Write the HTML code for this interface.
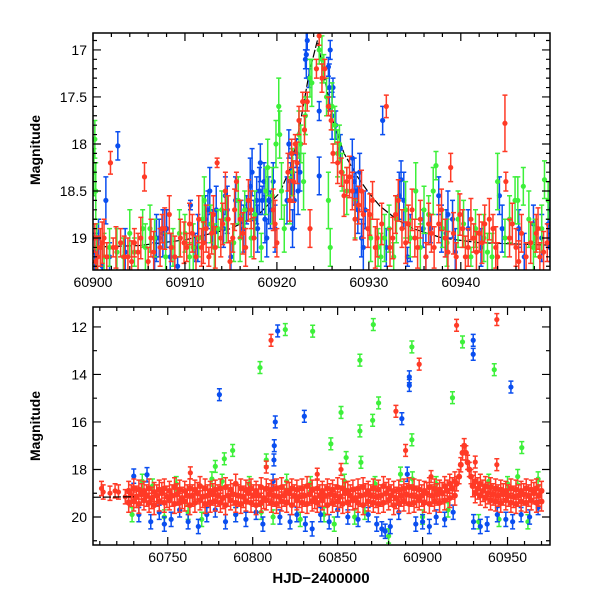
<!DOCTYPE html>
<html><head><meta charset="utf-8"><style>
html,body{margin:0;padding:0;background:#fff;}
svg{display:block;font-family:"Liberation Sans",sans-serif;}
</style></head><body>
<svg id="chart" width="600" height="600" xmlns="http://www.w3.org/2000/svg">
<defs>
<clipPath id="c1"><rect x="93" y="33" width="457" height="237"/></clipPath>
<clipPath id="c2"><rect x="93" y="307" width="457" height="238"/></clipPath>
</defs>
<g id="top"></g>
<g id="bot"></g>
<text x="40" y="150" transform="rotate(-90 40 150)" text-anchor="middle" font-size="14" font-weight="bold">Magnitude</text>
<text x="40" y="426" transform="rotate(-90 40 426)" text-anchor="middle" font-size="14" font-weight="bold">Magnitude</text>
<text x="321" y="583" text-anchor="middle" font-size="15" font-weight="bold">HJD−2400000</text>
</svg>
<script>
// ---- top panel data ----
const topRedT=[60900.2,60900.3,60900.8,60901.2,60901.5,60901.9,60902.2,60903.0,60903.8,60904.5,60904.9,60905.6,60906.0,60906.3,60907.3,60907.5,60908.3,60908.5,60909.5,60910.2,60910.8,60911.5,60911.8,60912.3,60912.6,60913.1,60913.5,60913.9,60914.4,60914.7,60915.2,60915.6,60916.0,60916.6,60917.2,60919.8,60920.0,60921.2,60921.6,60922.0,60922.4,60922.8,60923.0,60923.3,60923.6,60924.3,60924.6,60924.9,60925.2,60925.6,60925.9,60926.1,60927.0,60927.6,60928.2,60928.9,60929.4,60929.9,60930.4,60930.9,60931.9,60932.3,60932.9,60933.6,60934.3,60935.0,60935.6,60936.2,60936.8,60937.6,60938.3,60938.9,60939.5,60940.2,60940.8,60941.4,60942.0,60942.6,60943.5,60944.0,60944.8,60944.9,60945.3,60946.0,60946.6,60947.1,60948.2,60948.6,60949.4];
const topRedM=[19.0,19.25,19.1,19.0,19.2,18.2,19.1,19.05,19.2,19.05,19.15,18.35,19.25,19.0,19.1,18.9,18.75,19.1,19.0,19.1,18.95,18.8,19.1,18.9,19.2,18.75,18.2,19.0,18.5,18.8,19.0,18.4,18.8,19.1,18.7,18.85,19.05,18.3,18.1,18.0,17.75,17.55,17.85,17.55,18.9,17.2,16.85,17.3,17.2,17.6,17.75,18.1,18.3,18.4,18.5,18.65,18.75,18.9,18.6,19.0,17.6,19.1,18.75,18.9,18.85,19.0,18.8,19.2,18.95,18.85,19.0,18.25,19.2,18.9,19.1,19.0,18.95,18.85,18.9,19.2,17.78,18.4,19.0,19.1,18.95,19.2,18.95,19.2,19.05];
const topRedE=[.15,.1,.2,.2,.15,.12,.1,.15,.2,.15,.2,.15,.15,.2,.2,.15,.2,.15,.2,.15,.2,.25,.2,.25,.1,.2,.05,.2,.2,.25,.15,.1,.2,.2,.2,.25,.15,.2,.15,.1,.15,.1,.15,.1,.2,.1,.1,.15,.1,.1,.1,.1,.15,.15,.2,.2,.25,.2,.2,.2,.12,.2,.2,.2,.2,.2,.2,.15,.2,.2,.2,.15,.15,.2,.2,.15,.2,.2,.15,.15,.3,.1,.2,.2,.2,.15,.2,.15,.2];
const topRed2T=[60900.5,60901.0,60902.5,60903.4,60904.2,60905.2,60906.6,60907.8,60908.9,60909.9,60910.5,60911.2,60912.0,60912.9,60913.3,60914.1,60914.9,60915.4,60916.3,60916.9,60917.5,60919.6,60921.4,60921.8,60922.2,60926.6,60927.3,60927.9,60928.5,60929.2,60930.1,60930.7,60931.4,60932.6,60933.2,60934.0,60934.7,60935.3,60936.5,60937.1,60937.9,60938.6,60939.2,60939.9,60940.5,60941.1,60941.7,60942.3,60943.1,60943.8,60945.6,60946.3,60947.6,60948.4,60949.0];
const topRed2M=[19.2,19.05,19.1,19.2,19.25,19.0,19.15,18.9,19.2,19.05,18.85,19.2,19.05,18.95,19.1,18.85,19.25,18.7,18.95,18.6,19.0,18.7,18.6,18.4,18.2,18.2,18.55,18.35,18.8,18.5,18.75,19.1,18.85,19.0,18.6,19.05,18.7,19.1,18.85,19.1,18.7,19.15,18.95,18.75,19.2,18.8,19.15,19.05,18.8,19.1,18.85,19.25,19.05,18.9,19.15];
const topBlueT=[60900.2,60900.6,60901.4,60901.8,60902.7,60906.7,60907.2,60908.0,60909.2,60910.6,60911.1,60912.5,60912.7,60913.0,60914.2,60914.4,60915.0,60916.1,60916.7,60917.1,60917.5,60917.8,60918.2,60918.4,60918.6,60918.9,60919.3,60919.6,60921.3,60921.5,60921.7,60921.9,60922.1,60922.5,60923.1,60923.3,60923.5,60924.6,60924.6,60925.6,60925.8,60926.1,60926.4,60926.9,60928.2,60928.6,60929.0,60929.2,60929.6,60931.5,60931.9,60933.5,60933.8,60934.2,60935.9,60936.7,60937.6,60938.6,60939.1,60940.8,60942.2,60944.2,60946.3,60947.9,60949.7,60949.7];
const topBlueM=[19.15,19.0,18.6,19.2,18.02,19.2,19.0,18.9,19.3,18.65,19.1,18.7,18.5,18.9,18.9,18.55,19.2,18.8,18.7,18.45,18.8,18.6,18.2,18.6,18.4,19.0,18.7,18.4,18.0,18.4,18.9,18.6,18.1,18.3,17.1,16.9,17.3,17.65,18.34,17.18,17.0,17.4,17.8,18.05,18.15,18.5,18.3,19.0,18.7,17.75,19.1,18.38,18.6,19.2,18.9,18.9,18.55,18.75,18.8,18.9,19.1,18.55,18.9,18.85,18.7,19.1];
const topBlueE=[.2,.2,.25,.15,.15,.15,.2,.2,.1,.05,.15,.2,.25,.2,.2,.2,.15,.2,.15,.3,.2,.25,.2,.15,.2,.2,.2,.2,.15,.2,.2,.3,.15,.2,.1,.1,.1,.1,.2,.1,.1,.1,.15,.15,.2,.2,.2,.2,.2,.15,.2,.2,.3,.1,.2,.15,.2,.25,.2,.2,.2,.2,.2,.2,.2,.15];
const topBlue2T=[60900.4,60901.0,60903.5,60906.9,60907.6,60908.4,60911.4,60912.2,60913.4,60914.6,60915.5,60916.4,60917.3,60917.9,60918.1,60918.7,60919.1,60919.8,60921.1,60921.6,60922.3,60923.2,60925.7,60926.0,60928.4,60928.8,60929.4,60933.3,60934.5,60936.2,60937.9,60938.4,60939.4,60944.5,60946.9,60948.8,60949.5];
const topBlue2M=[19.2,19.3,19.15,19.0,18.95,19.2,19.0,18.8,18.7,18.7,18.6,18.9,18.3,18.9,18.5,18.8,18.6,18.9,18.6,18.3,18.5,17.05,17.4,17.7,18.4,18.7,19.1,18.55,19.0,19.2,18.9,18.95,19.15,18.9,19.2,19.0,18.85];
const topGreenT=[60900.2,60900.3,60900.5,60901.8,60903.3,60904.5,60905.4,60906.7,60908.7,60910.0,60910.5,60911.5,60912.1,60912.8,60913.6,60914.0,60915.3,60916.5,60917.2,60918.3,60919.0,60919.5,60920.2,60920.3,60920.5,60921.4,60922.6,60922.9,60923.1,60923.6,60924.6,60925.1,60925.4,60925.6,60925.8,60926.3,60926.8,60927.1,60928.5,60931.0,60931.7,60932.7,60934.0,60934.5,60935.1,60936.5,60937.3,60938.0,60939.7,60941.1,60941.6,60942.9,60944.0,60944.8,60945.9,60946.8,60947.4,60948.1,60949.1,60949.5];
const topGreenM=[17.95,18.5,19.2,19.1,19.2,19.15,18.9,19.0,19.1,18.95,19.2,19.0,18.6,18.85,18.9,18.7,19.05,18.7,19.0,19.1,18.25,18.55,17.6,17.9,18.5,18.6,18.0,18.4,17.7,17.3,17.0,17.2,17.5,18.6,19.1,17.8,18.0,18.3,18.8,19.1,19.0,19.2,18.7,19.0,18.5,18.75,18.23,18.9,18.8,19.2,18.9,19.15,18.4,19.0,18.6,18.45,18.8,19.0,18.38,18.6];
const topGreenE=[.2,.3,.2,.2,.2,.15,.2,.2,.2,.2,.15,.2,.25,.2,.2,.2,.2,.2,.2,.15,.3,.3,.3,.25,.3,.25,.2,.3,.2,.2,.15,.15,.2,.3,.2,.2,.2,.2,.2,.2,.25,.15,.3,.2,.3,.2,.15,.2,.3,.1,.2,.2,.3,.2,.25,.2,.3,.2,.2,.2];
const topGreen2T=[60900.1,60900.4,60901.2,60902.6,60904.0,60905.7,60906.2,60907.9,60909.4,60910.9,60911.9,60913.2,60914.5,60915.8,60916.0,60917.6,60918.8,60919.9,60920.8,60921.7,60922.4,60923.8,60924.9,60926.0,60926.6,60927.6,60930.2,60931.3,60932.2,60933.0,60935.6,60936.0,60937.0,60938.5,60940.3,60942.5,60943.4,60945.3,60946.2,60947.9,60948.8];
const topGreen2M=[18.3,19.1,19.2,19.15,18.95,19.1,18.9,19.2,18.95,19.1,18.8,19.1,18.8,18.6,19.0,18.75,18.5,18.0,18.9,18.3,17.9,17.35,17.1,17.6,18.1,18.5,19.0,19.2,18.9,18.8,19.1,18.7,18.5,19.05,18.85,19.0,19.2,18.8,18.6,19.1,18.9];
const topModelT=[60899,60905,60910,60915,60918,60920.3,60921.5,60922.5,60923.5,60924.4,60925.2,60926.1,60927.3,60928.7,60930,60931.2,60933,60934.8,60938,60942,60951];
const topModelM=[19.1,19.08,19.02,18.9,18.75,18.52,18.25,17.8,17.25,16.9,17.3,17.75,18.1,18.34,18.52,18.66,18.8,18.9,19.0,19.05,19.08];
// ---- bottom panel data ----
const botBandT=[60727,60730,60733,60736,60739,60742,60745,60748,60751,60754,60757,60760,60763,60766,60769,60772,60775,60778,60781,60784,60787,60790,60793,60796,60799,60802,60805,60808,60811,60814,60817,60820,60823,60826,60829,60832,60835,60838,60841,60844,60847,60850,60853,60856,60859,60862,60865,60868,60871,60874,60877,60880,60883,60886,60889,60892,60895,60898,60901,60904,60907,60910,60913,60916,60919,60931,60934,60937,60940,60943,60946,60949,60952,60955,60958,60961,60964,60967,60970];
const botRedHi=[18.9,18.8,18.85,18.9,18.8,18.95,18.85,18.8,18.9,18.75,18.85,18.9,18.8,18.85,18.7,18.8,18.9,18.85,18.8,18.75,18.85,18.6,18.8,18.85,18.8,18.9,18.75,18.8,18.85,18.8,18.75,18.9,18.8,18.85,18.8,18.7,18.85,18.8,18.9,18.8,18.85,18.75,18.8,18.9,18.85,18.8,18.75,18.9,18.8,18.85,18.7,18.8,18.9,18.85,18.8,18.75,18.8,18.85,18.9,18.75,18.8,18.85,18.7,18.6,18.5,18.5,18.6,18.7,18.75,18.8,18.85,18.9,18.8,18.85,18.9,18.8,18.85,18.8,18.9];
const botRedLo=[19.4,19.35,19.45,19.3,19.4,19.5,19.35,19.4,19.3,19.45,19.4,19.35,19.5,19.4,19.3,19.45,19.4,19.35,19.4,19.5,19.3,19.4,19.45,19.35,19.4,19.5,19.4,19.3,19.4,19.45,19.35,19.4,19.5,19.3,19.4,19.45,19.35,19.4,19.3,19.5,19.4,19.35,19.45,19.4,19.3,19.4,19.5,19.35,19.4,19.45,19.4,19.3,19.5,19.4,19.35,19.45,19.4,19.3,19.4,19.45,19.35,19.4,19.3,19.2,19.1,19.0,19.1,19.2,19.3,19.35,19.4,19.3,19.4,19.45,19.35,19.4,19.3,19.4,19.35];
const botBandT2=[60728.5,60731.5,60734.5,60737.5,60740.5,60743.5,60746.5,60749.5,60752.5,60755.5,60758.5,60761.5,60764.5,60767.5,60770.5,60773.5,60776.5,60779.5,60782.5,60785.5,60788.5,60791.5,60794.5,60797.5,60800.5,60803.5,60806.5,60809.5,60812.5,60815.5,60818.5,60821.5,60824.5,60827.5,60830.5,60833.5,60836.5,60839.5,60842.5,60845.5,60848.5,60851.5,60854.5,60857.5,60860.5,60863.5,60866.5,60869.5,60872.5,60875.5,60878.5,60881.5,60884.5,60887.5,60890.5,60893.5,60896.5,60899.5,60902.5,60905.5,60908.5,60911.5,60914.5,60917.5,60929.5,60932.5,60935.5,60938.5,60941.5,60944.5,60947.5,60950.5,60953.5,60956.5,60959.5,60962.5,60965.5,60968.5];
const botRedMid=[19.1,19.15,19.05,19.1,19.2,19.1,19.0,19.15,19.1,19.05,19.2,19.1,19.1,19.0,19.15,19.1,19.05,19.1,19.2,19.1,19.05,19.1,19.15,19.0,19.1,19.1,19.2,19.05,19.1,19.15,19.1,19.0,19.1,19.15,19.1,19.05,19.2,19.1,19.1,19.05,19.1,19.15,19.0,19.1,19.2,19.1,19.05,19.1,19.15,19.1,19.0,19.1,19.2,19.1,19.05,19.1,19.15,19.1,19.0,19.1,19.05,19.0,18.9,18.8,18.7,18.8,18.9,19.0,19.05,19.1,19.05,19.1,19.15,19.1,19.05,19.1,19.0,19.1];
const botRedPeakT=[60920,60921.5,60922.5,60923.5,60924.5,60925.5,60926.5,60927.5,60928.5];
const botRedPeakM=[18.6,18.3,17.8,17.3,17.0,17.3,17.7,18.0,18.3];
const botRedEarlyT=[60711,60712,60716,60719,60721,60725];
const botRedEarlyM=[18.8,18.95,19.0,18.9,18.95,19.15];
const botRedOutT=[60810.8,60920,60943.7,60898,60884.3,60763.3,60943.7,60931,60808,60852,60890,60838,60905];
const botRedOutM=[12.56,11.93,11.69,13.57,15.55,18.14,17.8,17.69,17.9,18.0,17.2,18.2,18.3];
const botBlueT=[60730,60737.8,60733,60740,60745,60748,60752,60757,60762,60768,60773,60778,60784,60790,60796,60802,60806,60812,60816,60822,60826,60831,60835,60840,60845,60850,60856,60862,60868,60873,60876,60878,60881,60886,60891,60896,60900,60904,60908,60913,60918,60930,60934,60938,60944,60949,60953,60958,60963,60968];
const botBlueM=[18.28,18.22,19.9,20.2,19.8,20.3,20.1,19.7,20.2,20.4,19.9,19.7,20.2,19.9,20.1,19.8,20.3,18.5,20.0,20.2,19.9,20.3,20.5,19.9,20.2,19.7,20.0,20.1,19.9,20.3,20.5,20.6,20.4,19.8,18.2,20.3,20.2,20.4,20.0,20.1,19.8,20.2,20.4,20.3,19.9,20.1,20.2,19.9,20.0,19.6];
const botBlueOutT=[60814.7,60780.4,60813.3,60830.4,60892.2,60892.2,60887.8,60929.8,60929.8,60952,60812.7,60812.5];
const botBlueOutM=[12.17,14.85,16.0,15.76,14.1,14.46,15.86,12.56,13.15,14.53,17.0,17.6];
const botGreenT=[60729,60735,60741,60748,60755,60762,60770,60776,60782,60790,60798,60805,60812,60820,60828,60834,60842,60848,60854,60860,60866,60872,60880,60887,60894,60900,60908,60915,60933,60939,60945,60950,60956,60962,60968];
const botGreenM=[19.9,18.5,18.7,20.0,18.6,19.8,20.1,18.4,18.5,19.9,18.6,19.8,20.0,18.5,20.1,18.6,19.9,20.3,18.5,20.0,19.8,18.6,20.8,18.2,18.4,20.0,18.6,19.7,20.2,18.5,20.1,18.6,18.3,20.2,18.4];
const botGreenOutT=[60819.2,60835.3,60871,60893.7,60923.5,60804.3,60863.1,60942.2,60917.6,60852,60874.1,60870.6,60863.1,60846,60893.7,60958.4,60788.2,60783.3,60855,60863.7,60778,60808];
const botGreenOutM=[12.11,12.18,11.9,12.84,12.63,13.71,13.4,13.8,14.98,15.6,15.2,15.93,16.38,16.92,16.75,17.08,17.2,17.55,17.5,17.7,17.87,17.6];
const botModelT=[60706,60730,60800,60900,60915,60919,60922,60924.5,60927,60930,60935,60945,60975];
const botModelM=[19.17,19.15,19.12,19.1,19.0,18.6,17.8,17.0,17.8,18.4,18.8,19.0,19.1];

const NS='http://www.w3.org/2000/svg';
const COL={red:'#ff3a26',blue:'#0a4ef0',green:'#3df03a'};
function mk(tag,attrs,parent){const e=document.createElementNS(NS,tag);for(const k in attrs)e.setAttribute(k,attrs[k]);parent.appendChild(e);return e;}

function panel(g,clip,x0,x1,y0,y1,tmin,tmax,mmin,mmax){
  const sx=t=>x0+(t-tmin)/(tmax-tmin)*(x1-x0);
  const sy=m=>y0+(m-mmin)/(mmax-mmin)*(y1-y0);
  const pg=mk('g',{'clip-path':'url(#'+clip+')'},g);
  
  
  return {sx,sy,pg};
}
function series(p,T,M,E,col,name,de,r){
  const g=mk('g',{},p.pg);
  
  
  const n=Math.min(T.length,M.length);
  for(let i=0;i<n;i++){
    const e=E?E[i]:(de||0.3);
    const x=p.sx(T[i]),yt=p.sy(M[i]-e),yb=p.sy(M[i]+e),y=p.sy(M[i]);
    const pt=mk('g',{},g);
    
    
    mk('path',{d:`M${x},${yt}V${yb}M${x-2.5},${yt}h5M${x-2.5},${yb}h5`,stroke:col,'stroke-width':1.5,fill:'none'},pt);
    mk('circle',{cx:x,cy:y,r:r||2.6,fill:col},pt);
  }
}
function model(p,T,M,name){
  let d='';for(let i=0;i<T.length;i++)d+=(i?'L':'M')+p.sx(T[i])+','+p.sy(M[i]);
  const l=mk('path',{d:d,stroke:'#000','stroke-width':1.2,fill:'none','stroke-dasharray':'8 2'},p.pg);
  
  
}
function axes(g,x0,x1,y0,y1,sx,sy,xMaj,xMin,yMaj,yMin,tmin,tmax,mmin,mmax,xl,yl){
  const f=mk('rect',{x:x0,y:y0,width:x1-x0,height:y1-y0,fill:'none',stroke:'#000','stroke-width':1.5},g);
  
  
  let d='';
  for(let t=Math.ceil(tmin/xMin)*xMin;t<=tmax;t+=xMin){const x=sx(t);const L=(Math.abs(t/xMaj-Math.round(t/xMaj))<1e-6)?8:4;d+=`M${x},${y1}v${-L}M${x},${y0}v${L}`;}
  for(let m=Math.ceil(mmin/yMin-1e-6)*yMin;m<=mmax+1e-9;m+=yMin){const y=sy(m);const L=(Math.abs(m/yMaj-Math.round(m/yMaj))<1e-6)?8:4;d+=`M${x0},${y}h${L}M${x1},${y}h${-L}`;}
  mk('path',{d:d,stroke:'#000','stroke-width':1.2,fill:'none'},g);
  for(const t of xl){const tx=mk('text',{x:sx(t),y:y1+17,'text-anchor':'middle','font-size':14},g);tx.textContent=t;
    
    }
  for(const m of yl){const tx=mk('text',{x:x0-6,y:sy(m)+5,'text-anchor':'end','font-size':14},g);tx.textContent=m;
    
    }
}
const topTicksX=[60900,60910,60920,60930,60940];
const topTicksY=[17,17.5,18,18.5,19];
const botTicksX=[60750,60800,60850,60900,60950];
const botTicksY=[12,14,16,18,20];

const gt=document.getElementById('top');
const P1=panel(gt,'c1',93,550,33,270,60900,60949.7,16.82,19.34);
model(P1,topModelT,topModelM,'model-curve');
series(P1,topBlueT,topBlueM,topBlueE,COL.blue,'series-blue');
series(P1,topBlue2T,topBlue2M,null,COL.blue,'series-blue-extra',0.25);
series(P1,topGreenT,topGreenM,topGreenE,COL.green,'series-green');
series(P1,topGreen2T,topGreen2M,null,COL.green,'series-green-extra',0.25);
series(P1,topRedT,topRedM,topRedE,COL.red,'series-red');
series(P1,topRed2T,topRed2M,null,COL.red,'series-red-extra',0.22);
axes(gt,93,550,33,270,P1.sx,P1.sy,10,2,0.5,0.1,60900,60949.7,16.82,19.34,topTicksX,topTicksY);

const gb=document.getElementById('bot');
const P2=panel(gb,'c2',93,550,307,545,60706,60975,11.16,21.18);
series(P2,botGreenT,botGreenM,null,COL.green,'series-green-band');
series(P2,botBlueT,botBlueM,null,COL.blue,'series-blue-band');
series(P2,botBandT,botRedHi,null,COL.red,'series-red-band-upper',0.4,3);
series(P2,botBandT,botRedLo,null,COL.red,'series-red-band-lower',0.4,3);
series(P2,botBandT2,botRedMid,null,COL.red,'series-red-band-middle',0.45,3);
series(P2,botRedPeakT,botRedPeakM,null,COL.red,'series-red-peak',0.3,3);
series(P2,botRedEarlyT,botRedEarlyM,null,COL.red,'series-red-early');
model(P2,botModelT.slice(0,2),botModelM.slice(0,2),'model-curve');
series(P2,botGreenOutT,botGreenOutM,null,COL.green,'series-green-outliers',0.25);
series(P2,botBlueOutT,botBlueOutM,null,COL.blue,'series-blue-outliers',0.25);
series(P2,botRedOutT,botRedOutM,null,COL.red,'series-red-outliers',0.25);
axes(gb,93,550,307,545,P2.sx,P2.sy,50,10,2,1,60706,60975,11.16,21.18,botTicksX,botTicksY);
</script>
</body></html>
